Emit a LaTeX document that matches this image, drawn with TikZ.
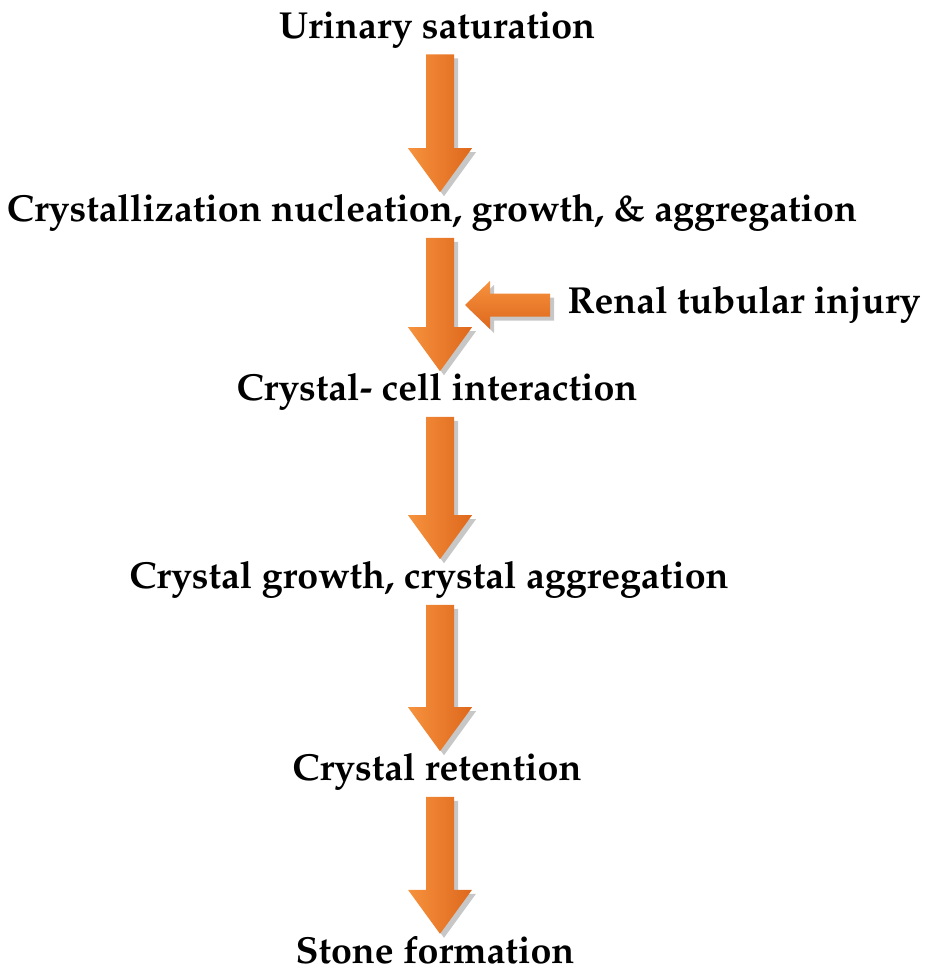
\documentclass[tikz,border=0pt]{standalone}
\usepackage[T1]{fontenc}
\usepackage{mathpazo}
\usetikzlibrary{calc}
\definecolor{orlight}{RGB}{246,146,62}
\definecolor{ordark}{RGB}{222,104,28}
\tikzset{
  arrowshadow/.style={fill=black!22},
  vbody/.style={left color=orlight,right color=ordark},
  hbody/.style={top color=orlight,bottom color=ordark},
  step label/.style={inner sep=0pt}
}
% block arrow from the foot of one label to the head of the next
\newcommand\vblock[2]{%
  \foreach \s/\c in {2pt/arrowshadow,0pt/vbody}
    \path[\c] let \p1=(#1.south), \p2=(#2.north) in
      (213pt+\s,\y1-3pt-\s) -- (227pt+\s,\y1-3pt-\s) -- (227pt+\s,\y2+23pt-\s)
      -- (236pt+\s,\y2+23pt-\s) -- (220pt+\s,\y2+1pt-\s) -- (204pt+\s,\y2+23pt-\s)
      -- (213pt+\s,\y2+23pt-\s) -- cycle;}
\newcommand\hblock[2]{%
  \foreach \s/\c in {2pt/arrowshadow,0pt/hbody}
    \path[\c] let \p1=(#1.west), \p2=(#2) in
      (\x1-8.5pt+\s,\y2+5.75pt-\s) -- (\x2+12.5pt+\s,\y2+5.75pt-\s) -- (\x2+12.5pt+\s,\y2+12pt-\s)
      -- (\x2+\s,\y2-\s) -- (\x2+12.5pt+\s,\y2-12pt-\s) -- (\x2+12.5pt+\s,\y2-5.75pt-\s)
      -- (\x1-8.5pt+\s,\y2-5.75pt-\s) -- cycle;}
\begin{document}
\begin{tikzpicture}[x=0.5pt,y=-0.5pt,font=\fontsize{18.8}{22}\selectfont\bfseries]
  \useasboundingbox (0,0) rectangle (927,973);
  \foreach \n/\x/\y/\t in {
    us/437/30/{Urinary saturation},
    cn/432/213/{Crystallization nucleation, growth, \& aggregation},
    ci/437/392/{Crystal- cell interaction},
    cg/429/580/{Crystal growth, crystal aggregation},
    cr/437/772/{Crystal retention},
    sf/435/950/{Stone formation}}
    \node[step label] (\n) at (\x,\y) {\t};
  \node[step label] (rt) at (744,305) {Renal tubular injury};
  \coordinate (tip) at (465,305);
  \foreach \a/\b in {us/cn,cn/ci,ci/cg,cg/cr,cr/sf}
    \vblock{\a}{\b};
  \hblock{rt}{tip}
\end{tikzpicture}
\end{document}
